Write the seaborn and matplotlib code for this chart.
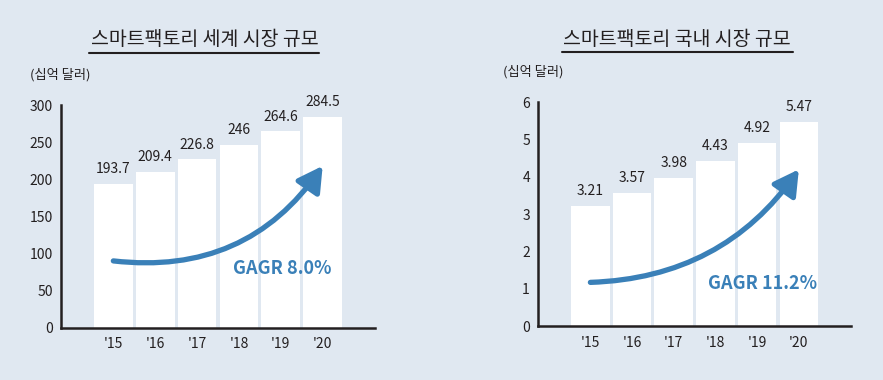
import numpy as np
import pandas as pd
import matplotlib
matplotlib.use('Agg')
import matplotlib.pyplot as plt
import seaborn as sns

# Data
years = ["'15", "'16", "'17", "'18", "'19", "'20"]
global_values = [193.7, 209.4, 226.8, 246, 264.6, 284.5]
domestic_values = [3.21, 3.57, 3.98, 4.43, 4.92, 5.47]

global_title = '스마트팩토리 세계 시장 규모'
domestic_title = '스마트팩토리 국내 시장 규모'
unit_label = '(십억 달러)'
global_cagr = 'GAGR 8.0%'
domestic_cagr = 'GAGR 11.2%'

# arrow start/end (bar index, value) and text anchor for the growth annotation
global_arrow = [(0, 90), (5, 218)]
domestic_arrow = [(0, 1.17), (5, 4.2)]
global_text_pos = (2.86, 80)
domestic_text_pos = (2.82, 1.14)

BG = '#e0e8f1'
BLUE = '#3a80b8'
INK = '#231f20'
FONT = ['Noto Sans CJK KR', 'DejaVu Sans']

sns.set_theme(style='white')
plt.rcParams['font.family'] = FONT


def draw_panel(fig, rect, values, ymax, yticks, cagr, arrow, text_pos, rad):
    ax = fig.add_axes(rect)
    ax.set_facecolor('none')
    df = pd.DataFrame({'year': years, 'value': values})
    sns.barplot(data=df, x='year', y='value', color='white', width=0.925,
                saturation=1, edgecolor='none', ax=ax)

    ax.set_xlim(-1.25, 6.25)
    ax.set_ylim(0, ymax)
    ax.set_yticks(yticks)
    ax.set_xlabel('')
    ax.set_ylabel('')

    for s in ['top', 'right']:
        ax.spines[s].set_visible(False)
    for s in ['left', 'bottom']:
        ax.spines[s].set_color(INK)
        ax.spines[s].set_linewidth(1.8)

    ax.tick_params(axis='y', direction='in', length=4, width=1.8, color=INK,
                   labelsize=10, labelcolor=INK, pad=6)
    ax.tick_params(axis='x', length=0, labelsize=10, labelcolor=INK, pad=7)
    # small upturned tick at the right end of the x axis
    ax.set_xticks([6.25], minor=True)
    ax.tick_params(axis='x', which='minor', direction='in', length=4,
                   width=1.8, color=INK)

    # value labels above bars
    for i, v in enumerate(values):
        ax.text(i, v + ymax * 0.035, f'{v:g}', ha='center', va='bottom',
                fontsize=10, color=INK)

    # curved growth arrow
    ax.annotate('', xy=arrow[1], xytext=arrow[0],
                arrowprops=dict(arrowstyle='-|>,head_length=0.75,head_width=0.42',
                                connectionstyle=f'arc3,rad={rad}',
                                color=BLUE, lw=3.8, mutation_scale=20,
                                shrinkA=0, shrinkB=0))
    ax.text(text_pos[0], text_pos[1], cagr, ha='left', va='center',
            fontsize=13, fontweight='bold', color=BLUE)
    return ax


fig = plt.figure(figsize=(8.83, 3.8), dpi=100)
fig.patch.set_facecolor(BG)

draw_panel(fig, [0.0691, 0.1376, 0.3556, 0.586], global_values, 300,
           [0, 50, 100, 150, 200, 250, 300], global_cagr,
           global_arrow, global_text_pos, 0.3)
draw_panel(fig, [0.6096, 0.1421, 0.3541, 0.5887], domestic_values, 6,
           [0, 1, 2, 3, 4, 5, 6], domestic_cagr,
           domestic_arrow, domestic_text_pos, 0.25)

# titles with underline, and unit labels
for cx, title in [(0.2314, global_title), (0.7667, domestic_title)]:
    fig.text(cx, 0.895, title, ha='center', va='center', fontsize=14,
             fontweight='medium', color=INK)
fig.add_artist(plt.Line2D([89 / 883, 319 / 883], [1 - 53 / 380] * 2,
                          color=INK, lw=1.5))
fig.add_artist(plt.Line2D([562 / 883, 793 / 883], [1 - 52 / 380] * 2,
                          color=INK, lw=1.5))
fig.text(30 / 883, 1 - 75 / 380, unit_label, ha='left', va='center',
         fontsize=9.5, color=INK)
fig.text(503 / 883, 1 - 72 / 380, unit_label, ha='left', va='center',
         fontsize=9.5, color=INK)

fig.savefig('out.png', dpi=100, facecolor=BG)
